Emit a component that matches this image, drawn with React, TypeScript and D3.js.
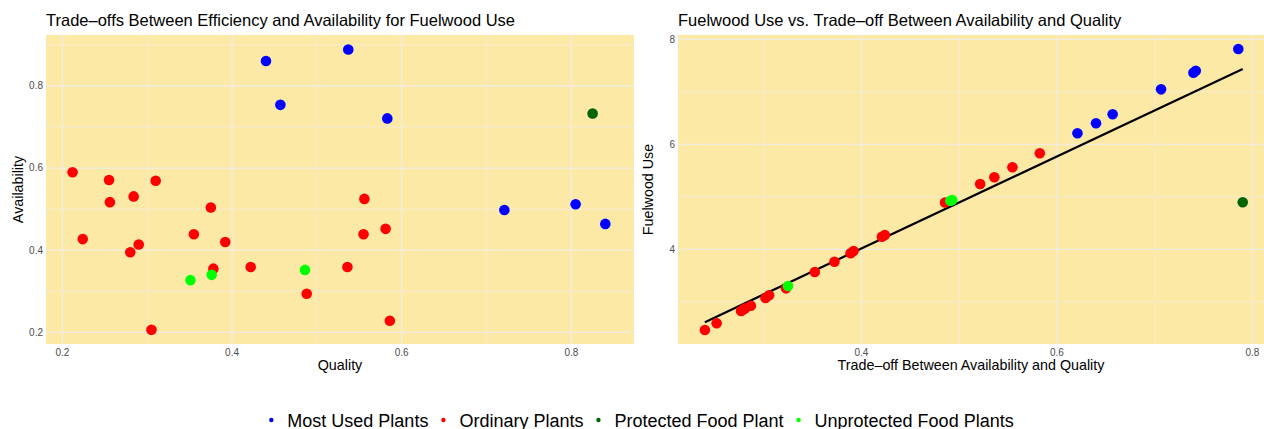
import React, { useEffect, useRef } from 'react';
import * as d3 from 'd3';

const groupNames = ["Most Used Plants", "Ordinary Plants", "Protected Food Plant", "Unprotected Food Plants"];
const groupColors = ["#0000FF", "#FF0000", "#006400", "#00FF00"];

// left panel: quality vs availability (group = index into groupNames)
const quality = [0.440, 0.537, 0.457, 0.583, 0.721, 0.805, 0.840,
  0.212, 0.255, 0.310, 0.284, 0.556, 0.256, 0.375, 0.224, 0.355, 0.290, 0.280, 0.392, 0.555, 0.581,
  0.378, 0.422, 0.536, 0.488, 0.586, 0.305,
  0.825,
  0.376, 0.351, 0.486];
const availability = [0.861, 0.889, 0.754, 0.721, 0.498, 0.512, 0.464,
  0.590, 0.571, 0.569, 0.531, 0.525, 0.517, 0.504, 0.427, 0.439, 0.414, 0.395, 0.420, 0.439, 0.452,
  0.355, 0.359, 0.359, 0.294, 0.228, 0.206,
  0.733,
  0.340, 0.327, 0.352];
const qualityGroup = [0, 0, 0, 0, 0, 0, 0,
  1, 1, 1, 1, 1, 1, 1, 1, 1, 1, 1, 1, 1, 1, 1, 1, 1, 1, 1, 1,
  2,
  3, 3, 3];

// right panel: trade-off vs fuelwood use
const tradeoff = [0.7855, 0.7396, 0.742, 0.7065, 0.657, 0.640, 0.621,
  0.5825, 0.5545, 0.536, 0.5215, 0.4856, 0.421, 0.424, 0.392, 0.389, 0.3725, 0.3524, 0.323, 0.3057,
  0.302, 0.287, 0.2814, 0.277, 0.279, 0.252, 0.240,
  0.790,
  0.491, 0.325, 0.493];
const fuelwood = [7.815, 7.364, 7.40, 7.047, 6.571, 6.40, 6.21,
  5.829, 5.562, 5.371, 5.244, 4.89, 4.24, 4.27, 3.968, 3.924, 3.764, 3.567, 3.256, 3.124,
  3.073, 2.926, 2.876, 2.825, 2.85, 2.59, 2.463,
  4.895,
  4.926, 3.30, 4.94];
const tradeoffGroup = qualityGroup;

const qualityTicks = [0.2, 0.4, 0.6, 0.8];
const availabilityTicks = [0.2, 0.4, 0.6, 0.8];
const tradeoffTicks = [0.4, 0.6, 0.8];
const fuelwoodTicks = [4, 6, 8];

const FONT = "'Liberation Sans', Arial, Helvetica, sans-serif";
const W = 1264, H = 429;

function minors(ticks, domain) {
  const step = ticks[1] - ticks[0];
  const out = [ticks[0] - step / 2, ...ticks.map(t => t + step / 2)];
  const lo = Math.min(...domain), hi = Math.max(...domain);
  return out.filter(v => v > lo && v < hi);
}

function drawPanel(svg, o) {
  const x = d3.scaleLinear().domain(o.xDomain).range([o.left, o.right]);
  const y = d3.scaleLinear().domain(o.yDomain).range([o.bottom, o.top]);

  svg.append("rect")
    .attr("x", o.left).attr("y", o.top)
    .attr("width", o.right - o.left).attr("height", o.bottom - o.top)
    .attr("fill", "#FDE9A6");

  const grid = svg.append("g").attr("stroke", "#F0ECE2");
  minors(o.xTicks, o.xDomain).forEach(v => grid.append("line")
    .attr("x1", x(v)).attr("x2", x(v)).attr("y1", o.top).attr("y2", o.bottom).attr("stroke-width", 0.7));
  minors(o.yTicks, o.yDomain).forEach(v => grid.append("line")
    .attr("y1", y(v)).attr("y2", y(v)).attr("x1", o.left).attr("x2", o.right).attr("stroke-width", 0.7));
  o.xTicks.forEach(v => grid.append("line")
    .attr("x1", x(v)).attr("x2", x(v)).attr("y1", o.top).attr("y2", o.bottom).attr("stroke-width", 1.3));
  o.yTicks.forEach(v => grid.append("line")
    .attr("y1", y(v)).attr("y2", y(v)).attr("x1", o.left).attr("x2", o.right).attr("stroke-width", 1.3));

  // tick labels
  svg.append("g").selectAll("text").data(o.xTicks).join("text")
    .attr("x", d => x(d)).attr("y", o.bottom + 12)
    .attr("text-anchor", "middle").attr("font-size", 10).attr("fill", "#4D4D4D")
    .attr("font-family", FONT).text(d => o.fmt(d));
  svg.append("g").selectAll("text").data(o.yTicks).join("text")
    .attr("x", o.left - 3).attr("y", d => y(d) + 3.4)
    .attr("text-anchor", "end").attr("font-size", 10).attr("fill", "#4D4D4D")
    .attr("font-family", FONT).text(d => o.fmt(d));

  // titles
  svg.append("text").attr("x", o.left).attr("y", 26)
    .attr("font-size", 16.5).attr("font-family", FONT).attr("fill", "#000").text(o.title);
  svg.append("text").attr("x", (o.left + Math.min(o.right, W)) / 2).attr("y", 370)
    .attr("text-anchor", "middle").attr("font-size", 14.3).attr("font-family", FONT).text(o.xLabel);
  svg.append("text")
    .attr("transform", `translate(${o.yLabelX},${(o.top + o.bottom) / 2}) rotate(-90)`)
    .attr("text-anchor", "middle").attr("font-size", 14.3).attr("font-family", FONT).text(o.yLabel);

  if (o.fit) {
    const xs = o.xs, ys = o.ys;
    const mx = d3.mean(xs), my = d3.mean(ys);
    const sxy = d3.sum(xs.map((v, i) => (v - mx) * (ys[i] - my)));
    const sxx = d3.sum(xs.map(v => (v - mx) ** 2));
    const b = sxy / sxx, a = my - b * mx;
    const [lo, hi] = d3.extent(xs);
    svg.append("path")
      .attr("d", d3.line()([[x(lo), y(a + b * lo)], [x(hi), y(a + b * hi)]]))
      .attr("stroke", "#000").attr("stroke-width", 2.2).attr("fill", "none");
  }

  // points, drawn group by group so greens sit on top
  const idx = d3.range(o.xs.length).sort((i, j) => o.gs[i] - o.gs[j]);
  svg.append("g").selectAll("circle").data(idx).join("circle")
    .attr("cx", i => x(o.xs[i])).attr("cy", i => y(o.ys[i])).attr("r", 5.3)
    .attr("fill", i => groupColors[o.gs[i]]);
}

export default function App() {
  const ref = useRef(null);

  useEffect(() => {
    const svg = d3.select(ref.current);
    svg.selectAll("*").remove();
    svg.append("rect").attr("width", W).attr("height", H).attr("fill", "#fff");

    drawPanel(svg, {
      left: 46, right: 634, top: 35, bottom: 344,
      xDomain: [0.1807, 0.8738], yDomain: [0.1715, 0.9242],
      xTicks: qualityTicks, yTicks: availabilityTicks,
      xs: quality, ys: availability, gs: qualityGroup,
      fmt: d3.format(".1f"),
      title: "Trade\u2013offs Between Efficiency and Availability for Fuelwood Use",
      xLabel: "Quality", yLabel: "Availability", yLabelX: 23, fit: false,
    });

    drawPanel(svg, {
      left: 678, right: 1269.6, top: 35, bottom: 344,
      xDomain: [0.2125, 0.8175], yDomain: [2.196, 8.082],
      xTicks: tradeoffTicks, yTicks: fuelwoodTicks,
      xs: tradeoff, ys: fuelwood, gs: tradeoffGroup,
      fmt: d => (d >= 1 ? String(d) : d3.format(".1f")(d)),
      title: "Fuelwood Use vs. Trade\u2013off Between Availability and Quality",
      xLabel: "Trade\u2013off Between Availability and Quality", yLabel: "Fuelwood Use", yLabelX: 653, fit: true,
    });

    // legend
    const legend = svg.append("g").attr("font-family", FONT).attr("font-size", 18);
    let cx = 0;
    groupNames.forEach((name, i) => {
      const g = legend.append("g");
      g.append("circle").attr("cx", cx).attr("cy", 420).attr("r", 2.2).attr("fill", groupColors[i]);
      const t = g.append("text").attr("x", cx + 16).attr("y", 426.5).attr("fill", "#000").text(name);
      const w = (t.node() as SVGTextElement).getComputedTextLength();
      cx += 16 + w + 15;
    });
    const total = cx - 15;
    legend.attr("transform", `translate(${265 + (1020 - 265 - total) / 2},0)`);
  }, []);

  return (
    <svg ref={ref} width={W} height={H}
      style={{ position: 'absolute', left: 0, top: 0, display: 'block' }} />
  );
}
